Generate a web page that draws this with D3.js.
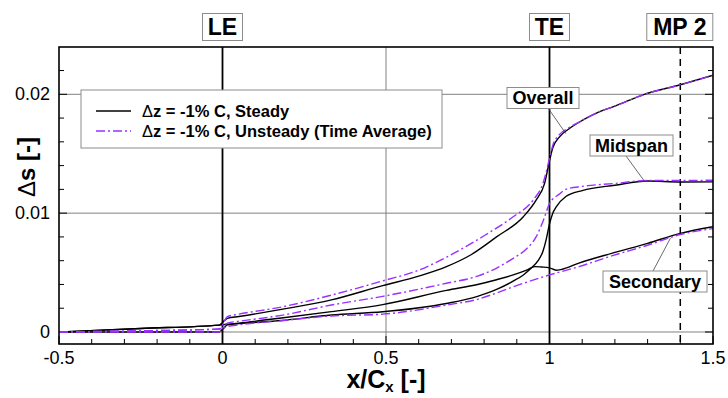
<!DOCTYPE html>
<html>
<head>
<meta charset="utf-8">
<script src="https://cdn.jsdelivr.net/npm/d3@7"></script>
<style>
  body { margin: 0; background: #fff; }
  text { font-family: "Liberation Sans", Arial, Helvetica, sans-serif; }
</style>
</head>
<body>
<svg id="chart" width="728" height="398"></svg>
<script>
// Entropy rise Δs along the axial coordinate x/Cx
const xTickValues = [-0.5, 0, 0.5, 1, 1.5];
const xTickLabels = ["-0.5", "0", "0.5", "1", "1.5"];
const yTickValues = [0, 0.01, 0.02];
const yTickLabels = ["0", "0.01", "0.02"];

// Overall (steady / time averaged)
const overallSteady = [
  [-0.5, 0], [-0.25, 0.0003], [-0.01, 0.00058], [0.0, 0.0008], [0.015, 0.00115],
  [0.05, 0.0013], [0.18, 0.0019], [0.333, 0.0027], [0.49, 0.0039], [0.6, 0.0047],
  [0.685, 0.0055], [0.76, 0.0065], [0.838, 0.0080], [0.92, 0.0097], [0.959, 0.0111],
  [0.985, 0.0125], [1.0, 0.0144], [1.01, 0.0155], [1.03, 0.0164], [1.06, 0.0171],
  [1.1, 0.0178], [1.15, 0.0185], [1.2, 0.0190], [1.29, 0.0200], [1.4, 0.0208], [1.5, 0.0216]
];
const overallUnsteady = [
  [-0.5, 0], [-0.25, 0.0001], [-0.01, 0.00025], [0.0, 0.0006], [0.015, 0.0013],
  [0.05, 0.0015], [0.18, 0.0021], [0.333, 0.0031], [0.49, 0.0043], [0.6, 0.0052],
  [0.685, 0.0063], [0.8, 0.0081], [0.889, 0.0097], [0.95, 0.0111], [0.98, 0.0125],
  [1.0, 0.0146], [1.01, 0.0157], [1.03, 0.0166], [1.06, 0.0172], [1.1, 0.0178],
  [1.15, 0.0185], [1.2, 0.0190], [1.29, 0.0200], [1.4, 0.0208], [1.5, 0.0216]
];

// Midspan
const midspanSteady = [
  [-0.5, 0], [-0.01, 0], [0.003, 0.0003], [0.015, 0.0006], [0.05, 0.0007],
  [0.18, 0.00097], [0.333, 0.00143], [0.49, 0.0017], [0.685, 0.0024], [0.78, 0.0030],
  [0.84, 0.0036], [0.89, 0.0043], [0.92, 0.0048], [0.945, 0.0054], [0.965, 0.0060],
  [0.98, 0.0068], [0.99, 0.0078], [1.0, 0.0091], [1.01, 0.0100], [1.02, 0.0105],
  [1.05, 0.0114], [1.1, 0.0119], [1.2, 0.01235], [1.3, 0.0127], [1.4, 0.01262], [1.5, 0.01263]
];
const midspanUnsteady = [
  [-0.5, 0], [-0.01, 0], [0.003, 0.0004], [0.015, 0.00075], [0.05, 0.0009],
  [0.18, 0.0014], [0.333, 0.00227], [0.49, 0.0030], [0.685, 0.0041], [0.78, 0.0047],
  [0.84, 0.0054], [0.889, 0.0062], [0.93, 0.0070], [0.959, 0.0080], [0.98, 0.0093],
  [1.0, 0.0108], [1.03, 0.0116], [1.05, 0.0120], [1.1, 0.01225], [1.2, 0.0125],
  [1.3, 0.01275], [1.4, 0.01275], [1.5, 0.01277]
];

// Secondary
const secondarySteady = [
  [-0.5, 0], [-0.25, 0.0003], [-0.01, 0.00058], [0.015, 0.00065], [0.05, 0.00075],
  [0.18, 0.00118], [0.333, 0.00171], [0.49, 0.0023], [0.685, 0.0035], [0.78, 0.0040],
  [0.838, 0.0044], [0.889, 0.0048], [0.93, 0.0052], [0.955, 0.0055], [0.975, 0.00547],
  [1.0, 0.0054], [1.02, 0.0052], [1.035, 0.00525], [1.09, 0.0058], [1.19, 0.00662],
  [1.3, 0.00746], [1.4, 0.0083], [1.5, 0.00886]
];
const secondaryUnsteady = [
  [-0.5, 0], [-0.25, 0.0001], [-0.01, 0.00025], [0.015, 0.00045], [0.05, 0.0006],
  [0.18, 0.00095], [0.333, 0.00135], [0.49, 0.0015], [0.685, 0.00227], [0.78, 0.00275],
  [0.84, 0.0033], [0.889, 0.0038], [1.0, 0.0048], [1.09, 0.0055], [1.19, 0.0064],
  [1.3, 0.0073], [1.4, 0.0082], [1.5, 0.0087]
];

const legendLabels = ["z = -1% C, Steady", "z = -1% C, Unsteady (Time Average)"];
const markerLines = [{ x: 0, label: "LE" }, { x: 1, label: "TE" }, { x: 1.4, label: "MP 2" }];

const svg = d3.select("#chart");
const W = 728, H = 398;
const plot = { left: 59, right: 713, top: 47, bottom: 344 };

const x = d3.scaleLinear().domain([-0.5, 1.5]).range([plot.left, plot.right]);
const y = d3.scaleLinear().domain([-0.00101, 0.02398]).range([plot.bottom, plot.top]);

const purple = "#9b30ff";

svg.append("rect").attr("width", W).attr("height", H).attr("fill", "#fff");

const clipId = "plotClip";
svg.append("clipPath").attr("id", clipId).append("rect")
  .attr("x", plot.left).attr("y", plot.top)
  .attr("width", plot.right - plot.left).attr("height", plot.bottom - plot.top);

// Grid lines
const grid = svg.append("g").attr("stroke", "#808080").attr("stroke-width", 1);
yTickValues.forEach(v => {
  grid.append("line").attr("x1", plot.left).attr("x2", plot.right)
    .attr("y1", y(v)).attr("y2", y(v));
});
grid.append("line").attr("x1", x(0.5)).attr("x2", x(0.5))
  .attr("y1", plot.top).attr("y2", plot.bottom);

// Minor / major ticks pointing inwards
const ticks = svg.append("g").attr("stroke", "#000").attr("stroke-width", 1);
d3.range(-5, 16).forEach(i => {
  const v = i / 10;
  const len = (i % 5 === 0) ? 8 : 5;
  ticks.append("line").attr("x1", x(v)).attr("x2", x(v))
    .attr("y1", plot.bottom).attr("y2", plot.bottom - len);
});
d3.range(0, 12).forEach(i => {
  const v = i * 0.002;
  const len = (i % 5 === 0) ? 8 : 5;
  ticks.append("line").attr("x1", plot.left).attr("x2", plot.left + len)
    .attr("y1", y(v)).attr("y2", y(v));
  ticks.append("line").attr("x1", plot.right).attr("x2", plot.right - len)
    .attr("y1", y(v)).attr("y2", y(v));
});

// LE / TE / MP 2 vertical markers
markerLines.forEach(m => {
  const ln = svg.append("line").attr("x1", x(m.x)).attr("x2", x(m.x))
    .attr("y1", plot.top).attr("y2", plot.bottom)
    .attr("stroke", "#000").attr("stroke-width", 1.8);
  if (m.label === "MP 2") ln.attr("stroke-dasharray", "7,5").attr("stroke-width", 1.5);
});

// Curves
const line = d3.line().x(d => x(d[0])).y(d => y(d[1])).curve(d3.curveMonotoneX);
const curves = svg.append("g").attr("clip-path", `url(#${clipId})`).attr("fill", "none");
[overallSteady, midspanSteady, secondarySteady].forEach(s => {
  curves.append("path").datum(s).attr("d", line)
    .attr("stroke", "#000").attr("stroke-width", 1.4);
});
[overallUnsteady, midspanUnsteady, secondaryUnsteady].forEach(s => {
  curves.append("path").datum(s).attr("d", line)
    .attr("stroke", purple).attr("stroke-width", 1.4)
    .attr("stroke-dasharray", "9,3,2,3");
});

// Frame
svg.append("rect").attr("x", plot.left).attr("y", plot.top)
  .attr("width", plot.right - plot.left).attr("height", plot.bottom - plot.top)
  .attr("fill", "none").attr("stroke", "#000").attr("stroke-width", 1.6);

// Tick labels
xTickValues.forEach((v, i) => {
  svg.append("text").attr("x", x(v)).attr("y", 364)
    .attr("text-anchor", "middle").attr("font-size", 18).text(xTickLabels[i]);
});
yTickValues.forEach((v, i) => {
  svg.append("text").attr("x", 50).attr("y", y(v) + 6)
    .attr("text-anchor", "end").attr("font-size", 18).text(yTickLabels[i]);
});

// Axis titles
const xt = svg.append("text").attr("x", 386).attr("y", 388)
  .attr("text-anchor", "middle").attr("font-size", 25).attr("font-weight", "bold");
xt.append("tspan").text("x/C");
xt.append("tspan").attr("font-size", 15).attr("dy", 4).text("x");
xt.append("tspan").attr("dy", -4).text(" [-]");

const yt = svg.append("text").attr("transform", "translate(35,167) rotate(-90)")
  .attr("text-anchor", "middle").attr("font-size", 24).attr("font-weight", "bold");
yt.append("tspan").attr("font-weight", "normal").text("\u0394");
yt.append("tspan").text("s [-]");

// Labelled boxes helper
function labelBox(cx, cy, w, h, txt, size) {
  const g = svg.append("g");
  g.append("rect").attr("x", cx - w / 2).attr("y", cy - h / 2).attr("width", w).attr("height", h)
    .attr("fill", "#fff").attr("stroke", "#8c8c8c").attr("stroke-width", 1);
  g.append("text").attr("x", cx).attr("y", cy + size * 0.36)
    .attr("text-anchor", "middle").attr("font-size", size).attr("font-weight", "bold").text(txt);
}

// Top markers
labelBox(x(0), 27, 40, 27, "LE", 23);
labelBox(x(1), 27, 40, 27, "TE", 23);
labelBox(x(1.4) - 0.5, 27, 66, 27, "MP 2", 23);

// Curve annotations with leader lines
const leaders = svg.append("g").attr("stroke", "#444").attr("stroke-width", 0.8);
leaders.append("line").attr("x1", 548).attr("y1", 108).attr("x2", x(1.05)).attr("y2", y(0.0167));
leaders.append("line").attr("x1", 626).attr("y1", 156).attr("x2", x(1.29)).attr("y2", y(0.0127));
leaders.append("line").attr("x1", 653).attr("y1", 271).attr("x2", x(1.37)).attr("y2", y(0.0079));
labelBox(543, 98, 72, 21, "Overall", 18);
labelBox(631.5, 145.5, 83, 21, "Midspan", 18);
labelBox(655, 281.5, 104, 21, "Secondary", 18);

// Legend
const lg = svg.append("g");
lg.append("rect").attr("x", 81).attr("y", 90).attr("width", 361).attr("height", 58)
  .attr("fill", "#fff").attr("stroke", "#8c8c8c").attr("stroke-width", 1);
[["#000", null], [purple, "9,3,2,3"]].forEach((st, i) => {
  const yy = 111 + i * 20;
  const l = lg.append("line").attr("x1", 96).attr("x2", 131).attr("y1", yy).attr("y2", yy)
    .attr("stroke", st[0]).attr("stroke-width", 1.3);
  if (st[1]) l.attr("stroke-dasharray", st[1]);
  const t = lg.append("text").attr("x", 142).attr("y", yy + 6)
    .attr("font-size", 16.5).attr("font-weight", "bold");
  t.append("tspan").attr("font-weight", "normal").text("\u0394");
  t.append("tspan").text(legendLabels[i]);
});
</script>
</body>
</html>
